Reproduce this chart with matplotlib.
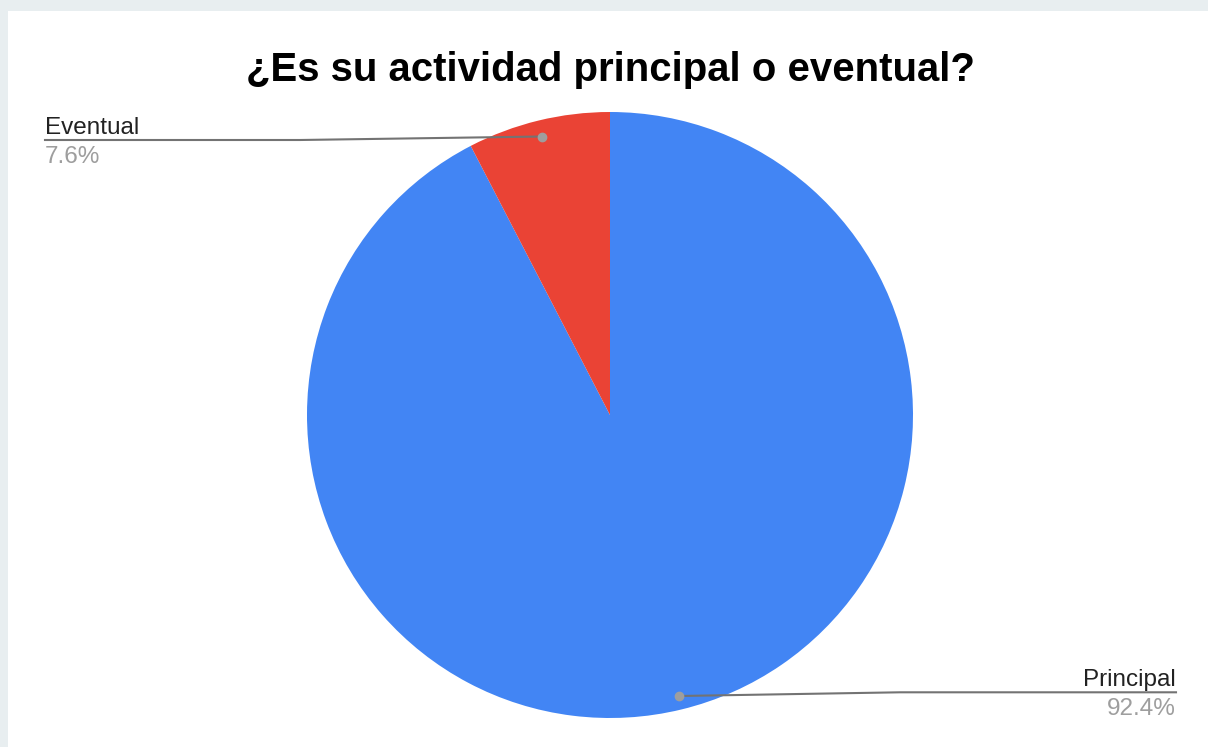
import matplotlib
matplotlib.use("Agg")
import matplotlib.pyplot as plt
from matplotlib.patches import Rectangle

title = "¿Es su actividad principal o eventual?"
categories = ["Principal", "Eventual"]
values = [92.4, 7.6]
colors = ["#4285F4", "#EA4335"]

W, H = 1208, 747
fig = plt.figure(figsize=(W / 100, H / 100), dpi=100)
fig.patch.set_facecolor("#e8eef0")
ax = fig.add_axes([0, 0, 1, 1])
ax.set_xlim(0, W)
ax.set_ylim(0, H)
ax.set_aspect("equal")
ax.axis("off")

def Y(py):
    return H - py

ax.add_patch(Rectangle((8, 0), W - 8, Y(11), facecolor="white", edgecolor="none", zorder=0))

cx, cy, r = 610, Y(415), 303
wedges, _ = ax.pie(values, colors=colors, startangle=90, counterclock=False,
                   center=(cx, cy), radius=r, frame=True,
                   wedgeprops=dict(edgecolor="none", linewidth=0))
ax.set_xlim(0, W)
ax.set_ylim(0, H)
ax.axis("off")

font = ["Liberation Sans", "DejaVu Sans"]
ax.text(611, Y(70), title, ha="center", va="center", fontsize=28.9,
        fontweight="bold", family=font, color="#000000")

line_c = "#737373"
dot_c = "#9e9e9e"
lab_fs = 17.5
# Eventual leader
ax.plot([542, 300, 45], [Y(136.5), Y(140), Y(140)], color=line_c, lw=1.5, zorder=3)
ax.plot([542], [Y(136.5)], "o", color=dot_c, ms=6, zorder=4)
ax.text(45, Y(134), categories[1], ha="left", va="baseline", fontsize=lab_fs,
        family=font, color="#222222")
ax.text(45, Y(163), f"{values[1]}%", ha="left", va="baseline", fontsize=lab_fs,
        family=font, color="#9e9e9e")

# Principal leader
ax.plot([679, 900, 1176], [Y(696), Y(692.3), Y(692.3)], color=line_c, lw=1.5, zorder=3)
ax.plot([679], [Y(696)], "o", color=dot_c, ms=6, zorder=4)
ax.text(1176, Y(686), categories[0], ha="right", va="baseline", fontsize=lab_fs,
        family=font, color="#222222")
ax.text(1176, Y(715), f"{values[0]}%", ha="right", va="baseline", fontsize=lab_fs,
        family=font, color="#9e9e9e")

fig.savefig("out.png", dpi=100, facecolor=fig.get_facecolor())
